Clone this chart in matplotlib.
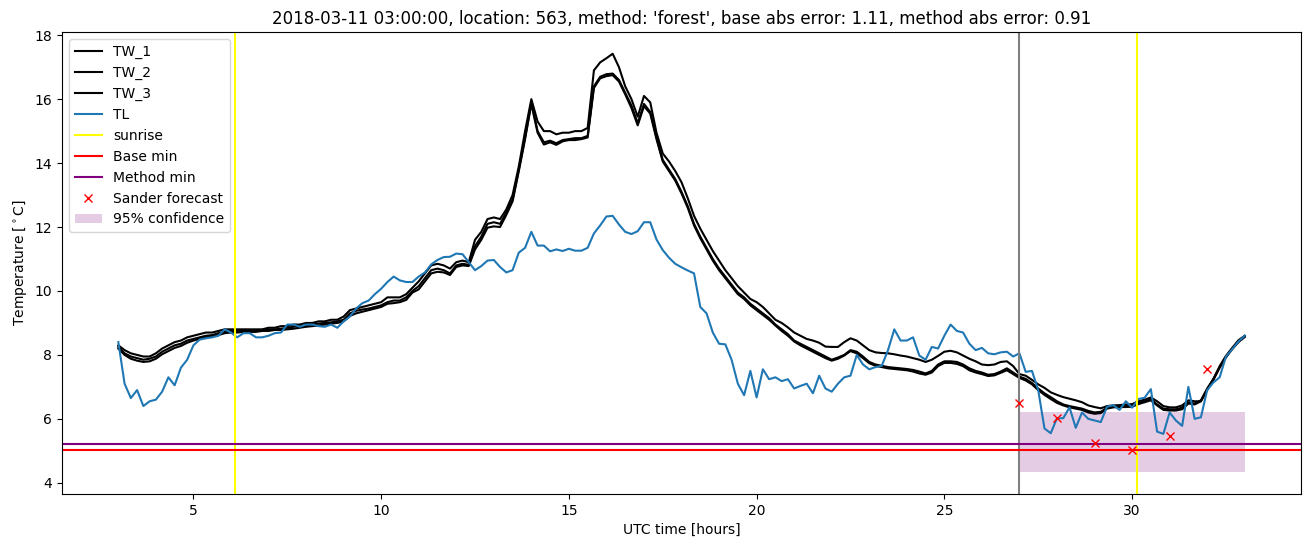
import numpy as np
import matplotlib
matplotlib.use("Agg")
import matplotlib.pyplot as plt

# time grid: 10-minute steps from 03:00 to 33:00 (hours UTC)
hours = np.arange(181) / 6.0 + 3.0

TL = [8.40, 7.10, 6.65, 6.90, 6.40, 6.55, 6.60, 6.85, 7.30, 7.05,
      7.60, 7.85, 8.30, 8.48, 8.52, 8.55, 8.60, 8.80, 8.70, 8.55,
      8.68, 8.68, 8.55, 8.55, 8.60, 8.68, 8.70, 8.95, 8.95, 8.88,
      8.95, 8.95, 8.90, 8.88, 8.95, 8.85, 9.05, 9.20, 9.45, 9.62,
      9.70, 9.90, 10.07, 10.28, 10.45, 10.33, 10.28, 10.28, 10.45, 10.58,
      10.83, 10.97, 11.06, 11.07, 11.17, 11.15, 10.90, 10.65, 10.78, 10.95,
      10.97, 10.75, 10.58, 10.65, 11.20, 11.35, 11.85, 11.42, 11.42, 11.24,
      11.30, 11.25, 11.32, 11.26, 11.26, 11.35, 11.80, 12.05, 12.33, 12.35,
      12.08, 11.85, 11.78, 11.87, 12.15, 12.15, 11.61, 11.28, 11.04, 10.85,
      10.74, 10.64, 10.55, 9.50, 9.30, 8.70, 8.35, 8.33, 7.85, 7.10,
      6.74, 7.50, 6.67, 7.55, 7.24, 7.30, 7.18, 7.24, 6.95, 7.03,
      7.10, 6.80, 7.35, 6.95, 6.85, 7.10, 7.30, 7.35, 8.00, 7.70,
      7.55, 7.62, 7.66, 8.15, 8.80, 8.45, 8.45, 8.55, 7.98, 7.85,
      8.25, 8.20, 8.60, 8.95, 8.75, 8.70, 8.35, 8.15, 8.22, 8.05,
      8.02, 8.08, 8.10, 7.95, 8.05, 7.47, 7.50, 6.90, 5.70, 5.55,
      6.02, 6.02, 6.36, 5.72, 6.20, 6.00, 5.95, 5.90, 6.38, 6.43,
      6.28, 6.55, 6.35, 6.62, 6.66, 6.93, 5.60, 5.53, 6.20, 5.95,
      5.78, 7.00, 6.00, 6.05, 6.90, 7.14, 7.30, 7.95, 8.18, 8.42,
      8.60]

TW_1 = [8.30, 8.15, 8.05, 8.00, 7.95, 7.95, 8.05, 8.20, 8.30, 8.40,
        8.45, 8.55, 8.60, 8.65, 8.70, 8.70, 8.75, 8.80, 8.80, 8.80,
        8.80, 8.80, 8.80, 8.80, 8.85, 8.85, 8.90, 8.90, 8.95, 8.95,
        9.00, 9.00, 9.05, 9.05, 9.10, 9.10, 9.20, 9.40, 9.45, 9.50,
        9.55, 9.60, 9.65, 9.80, 9.80, 9.80, 9.90, 10.10, 10.30, 10.55,
        10.80, 10.85, 10.80, 10.70, 10.90, 10.95, 10.90, 11.60, 11.85, 12.25,
        12.30, 12.25, 12.55, 13.00, 13.90, 15.00, 16.00, 15.30, 15.00, 15.00,
        14.90, 14.95, 14.95, 15.00, 15.00, 15.10, 16.90, 17.15, 17.28, 17.42,
        17.00, 16.40, 16.00, 15.45, 16.10, 15.90, 14.95, 14.30, 14.05, 13.75,
        13.40, 12.90, 12.35, 11.95, 11.60, 11.25, 10.95, 10.65, 10.40, 10.15,
        9.95, 9.75, 9.65, 9.50, 9.30, 9.10, 9.00, 8.86, 8.70, 8.60,
        8.50, 8.45, 8.38, 8.26, 8.25, 8.25, 8.40, 8.52, 8.45, 8.30,
        8.15, 8.08, 8.06, 8.05, 8.02, 7.98, 7.95, 7.90, 7.85, 7.78,
        7.85, 7.97, 8.10, 8.13, 8.08, 7.98, 7.88, 7.80, 7.70, 7.68,
        7.70, 7.78, 7.80, 7.65, 7.40, 7.35, 7.22, 7.08, 6.97, 6.83,
        6.75, 6.68, 6.63, 6.58, 6.52, 6.42, 6.37, 6.33, 6.40, 6.42,
        6.43, 6.45, 6.46, 6.55, 6.60, 6.67, 6.55, 6.40, 6.36, 6.36,
        6.42, 6.58, 6.55, 6.55, 6.90, 7.25, 7.65, 7.97, 8.22, 8.46,
        8.60]

TW_2 = [8.25, 8.05, 7.95, 7.90, 7.85, 7.88, 7.95, 8.10, 8.20, 8.30,
        8.35, 8.45, 8.50, 8.55, 8.60, 8.62, 8.68, 8.72, 8.75, 8.75,
        8.75, 8.75, 8.75, 8.78, 8.80, 8.80, 8.82, 8.85, 8.88, 8.90,
        8.92, 8.95, 8.98, 9.00, 9.02, 9.05, 9.10, 9.30, 9.38, 9.42,
        9.45, 9.50, 9.55, 9.65, 9.70, 9.70, 9.80, 10.00, 10.15, 10.40,
        10.65, 10.70, 10.65, 10.55, 10.80, 10.85, 10.82, 11.40, 11.70, 12.10,
        12.15, 12.10, 12.45, 12.85, 13.80, 14.80, 15.90, 15.00, 14.65, 14.70,
        14.62, 14.72, 14.75, 14.78, 14.78, 14.85, 16.40, 16.70, 16.78, 16.80,
        16.60, 16.20, 15.80, 15.25, 15.85, 15.60, 14.80, 14.10, 13.80, 13.50,
        13.10, 12.65, 12.10, 11.70, 11.35, 11.00, 10.70, 10.45, 10.20, 9.95,
        9.80, 9.60, 9.45, 9.30, 9.15, 8.95, 8.80, 8.65, 8.45, 8.35,
        8.25, 8.15, 8.05, 7.95, 7.85, 7.92, 8.00, 8.15, 8.10, 7.95,
        7.78, 7.70, 7.66, 7.62, 7.60, 7.58, 7.56, 7.53, 7.48, 7.42,
        7.50, 7.70, 7.80, 7.80, 7.78, 7.70, 7.58, 7.50, 7.45, 7.38,
        7.40, 7.48, 7.58, 7.45, 7.32, 7.25, 7.12, 6.95, 6.80, 6.68,
        6.55, 6.45, 6.40, 6.36, 6.32, 6.25, 6.20, 6.22, 6.35, 6.40,
        6.40, 6.40, 6.42, 6.50, 6.55, 6.62, 6.45, 6.32, 6.30, 6.30,
        6.35, 6.52, 6.48, 6.58, 6.95, 7.25, 7.62, 7.95, 8.20, 8.42,
        8.58]

TW_3 = [8.20, 8.00, 7.88, 7.82, 7.78, 7.80, 7.88, 8.02, 8.12, 8.22,
        8.28, 8.38, 8.45, 8.50, 8.55, 8.58, 8.62, 8.68, 8.70, 8.70,
        8.72, 8.72, 8.72, 8.75, 8.75, 8.78, 8.78, 8.80, 8.82, 8.85,
        8.88, 8.90, 8.92, 8.95, 8.98, 9.00, 9.05, 9.22, 9.30, 9.35,
        9.40, 9.45, 9.50, 9.60, 9.62, 9.65, 9.72, 9.95, 10.05, 10.30,
        10.55, 10.60, 10.58, 10.50, 10.75, 10.80, 10.78, 11.30, 11.60, 11.98,
        12.02, 12.00, 12.38, 12.80, 13.75, 14.75, 15.85, 14.95, 14.58, 14.65,
        14.57, 14.68, 14.72, 14.72, 14.75, 14.80, 16.35, 16.65, 16.72, 16.75,
        16.55, 16.15, 15.72, 15.18, 15.78, 15.55, 14.75, 14.05, 13.75, 13.45,
        13.05, 12.60, 12.05, 11.65, 11.30, 10.95, 10.65, 10.40, 10.15, 9.90,
        9.75, 9.55, 9.40, 9.25, 9.10, 8.92, 8.75, 8.60, 8.42, 8.30,
        8.20, 8.10, 8.00, 7.90, 7.82, 7.88, 7.98, 8.12, 8.05, 7.90,
        7.74, 7.66, 7.62, 7.58, 7.56, 7.54, 7.52, 7.48, 7.42, 7.38,
        7.45, 7.65, 7.75, 7.75, 7.72, 7.65, 7.52, 7.45, 7.40, 7.34,
        7.36, 7.44, 7.52, 7.40, 7.28, 7.20, 7.08, 6.90, 6.75, 6.62,
        6.50, 6.42, 6.36, 6.32, 6.28, 6.20, 6.16, 6.18, 6.32, 6.36,
        6.37, 6.37, 6.38, 6.46, 6.52, 6.58, 6.42, 6.28, 6.26, 6.26,
        6.30, 6.48, 6.45, 6.55, 6.92, 7.22, 7.60, 7.92, 8.18, 8.40,
        8.56]

sunrise_hours = [6.12, 30.13]
forecast_start = 27.0
base_min = 5.03
method_min = 5.22
sander_hours = [27, 28, 29, 30, 31, 32]
sander_temp = [6.50, 6.02, 5.23, 5.02, 5.45, 7.57]
conf_hours = [27.0, 33.0]
conf_low = 4.35
conf_high = 6.22

title = ("2018-03-11 03:00:00, location: 563, method: 'forest', "
         "base abs error: 1.11, method abs error: 0.91")

fig = plt.figure(figsize=(13.11, 5.47), dpi=100)
ax = fig.add_axes([0.0473, 0.0969, 0.9451, 0.8446])

ax.plot(hours, TW_1, color='black', label='TW_1')
ax.plot(hours, TW_2, color='black', label='TW_2')
ax.plot(hours, TW_3, color='black', label='TW_3')
ax.plot(hours, TL, color='#1f77b4', label='TL')
for i, s in enumerate(sunrise_hours):
    ax.axvline(s, color='yellow', label='sunrise' if i == 0 else None)
ax.axvline(forecast_start, color='grey')
ax.axhline(base_min, color='red', label='Base min')
ax.axhline(method_min, color='purple', label='Method min')
ax.plot(sander_hours, sander_temp, 'x', color='red', linestyle='none',
        label='Sander forecast')
ax.fill_between(conf_hours, [conf_low, conf_low], [conf_high, conf_high],
                color='purple', alpha=0.2, linewidth=0, label='95% confidence')

ax.set_xlim(1.5, 34.5)
ax.set_ylim(3.65, 18.1)
ax.set_xticks([5, 10, 15, 20, 25, 30])
ax.set_yticks([4, 6, 8, 10, 12, 14, 16, 18])
ax.set_xlabel('UTC time [hours]')
ax.set_ylabel(r'Temperature [$^\circ$C]')
ax.set_title(title, fontsize=12)
ax.legend(loc='upper left')

fig.savefig('out.png', dpi=100)
